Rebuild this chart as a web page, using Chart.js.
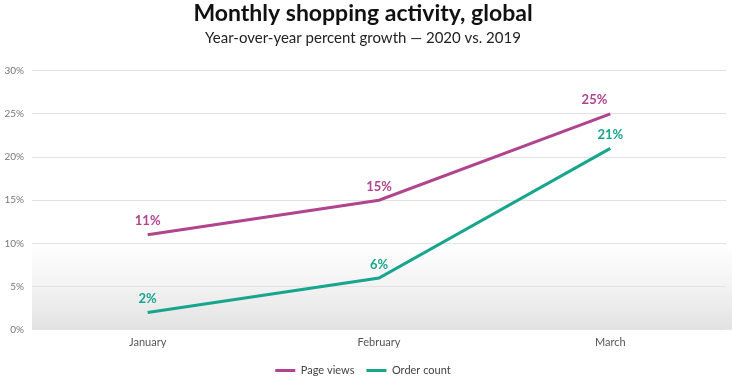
<!DOCTYPE html>
<html>
<head>
<meta charset="utf-8">
<script src="https://cdn.jsdelivr.net/npm/chart.js@4"></script>
<style>
    html, body { margin: 0; padding: 0; background: #fff; }
    #wrap { width: 732px; height: 376px; }
</style>
</head>
<body>
<div id="wrap"><canvas id="chart" width="732" height="376"></canvas></div>
<script>
var months = ['January', 'February', 'March'];
var pageViews = [11, 15, 25];
var orderCount = [2, 6, 21];
var yTicks = [0, 5, 10, 15, 20, 25, 30];

var PINK = '#b0448f';
var TEAL = '#18a58e';

// soft grey band at the bottom of the plot
var shadeBand = {
    id: 'shadeBand',
    beforeDatasetsDraw: function (chart) {
        var a = chart.chartArea, y = chart.scales.y, ctx = chart.ctx;
        var top = y.getPixelForValue(10);
        var g = ctx.createLinearGradient(0, top, 0, a.bottom);
        g.addColorStop(0, 'rgba(233,233,233,0)');
        g.addColorStop(1, 'rgba(226,226,226,1)');
        ctx.save();
        ctx.fillStyle = g;
        ctx.fillRect(a.left, top, a.right - a.left + 6, a.bottom - top);
        ctx.restore();
    }
};

// value labels above each point
var valueLabels = {
    id: 'valueLabels',
    afterDatasetsDraw: function (chart) {
        var ctx = chart.ctx;
        ctx.save();
        ctx.font = 'bold 13px Lato';
        ctx.textBaseline = 'bottom';
        chart.data.datasets.forEach(function (ds, i) {
            chart.getDatasetMeta(i).data.forEach(function (pt, j) {
                ctx.fillStyle = ds.borderColor;
                var last = i === 0 && j === ds.data.length - 1;
                ctx.textAlign = last ? 'right' : 'center';
                ctx.fillText(ds.data[j] + '%', last ? pt.x - 3 : pt.x, pt.y - 7);
            });
        });
        ctx.restore();
    }
};

new Chart(document.getElementById('chart').getContext('2d'), {
    type: 'line',
    data: {
        labels: months,
        datasets: [
            {
                label: 'Page views',
                data: pageViews,
                borderColor: PINK,
                backgroundColor: PINK,
                borderWidth: 3,
                pointRadius: 0,
                tension: 0
            },
            {
                label: 'Order count',
                data: orderCount,
                borderColor: TEAL,
                backgroundColor: TEAL,
                borderWidth: 3,
                pointRadius: 0,
                tension: 0
            }
        ]
    },
    options: {
        responsive: false,
        animation: false,
        layout: { padding: { left: 0, right: 6, top: 0, bottom: -10 } },
        plugins: {
            title: {
                display: true,
                text: 'Monthly shopping activity, global',
                color: '#111',
                font: { family: 'Lato', size: 23, weight: 'bold' },
                padding: { top: 0, bottom: 2 }
            },
            subtitle: {
                display: true,
                text: 'Year-over-year percent growth \u2014 2020 vs. 2019',
                color: '#222',
                font: { family: 'Lato', size: 15 },
                padding: { top: 0, bottom: 23 }
            },
            legend: {
                position: 'bottom',
                labels: {
                    usePointStyle: true,
                    pointStyle: 'line',
                    pointStyleWidth: 20,
                    boxHeight: 3,
                    padding: 12,
                    color: '#444',
                    font: { family: 'Lato', size: 11 }
                }
            },
            tooltip: { enabled: false }
        },
        scales: {
            x: {
                offset: true,
                afterFit: function (s) { s.height += 6; },
                grid: { display: false },
                border: { display: false },
                ticks: { color: '#555', font: { family: 'Lato', size: 11 }, padding: -2 }
            },
            y: {
                min: 0,
                max: 30,
                afterFit: function (s) { s.width = 32; },
                afterBuildTicks: function (s) {
                    s.ticks = yTicks.map(function (v) { return { value: v }; });
                },
                border: { display: false },
                grid: { color: '#e2e2e2', lineWidth: 1, drawTicks: false },
                ticks: {
                    color: '#777',
                    padding: 8,
                    font: { family: 'Lato', size: 10 },
                    callback: function (v) { return v + '%'; }
                }
            }
        }
    },
    plugins: [shadeBand, valueLabels]
});
</script>
</body>
</html>
